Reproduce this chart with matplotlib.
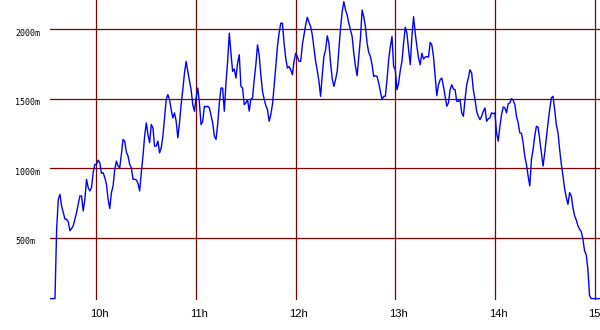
import numpy as np
import matplotlib.pyplot as plt
import matplotlib.transforms as mtransforms

# one reading a minute, first one at 9:32
start_min = 9 * 60 + 32
level = [
    60, 60, 60, 60, 560, 775, 811, 727, 680, 632,
    632, 613, 549, 565, 584, 632, 680, 739, 799, 799,
    691, 775, 919, 859, 835, 859, 967, 1026, 1026, 1057,
    1038, 962, 967, 931, 883, 775, 708, 823, 871, 990,
    1050, 1014, 1002, 1098, 1206, 1194, 1115, 1086, 1026, 1002,
    919, 919, 914, 890, 835, 967, 1086, 1230, 1325, 1242,
    1182, 1313, 1289, 1158, 1158, 1194, 1110, 1146, 1230, 1361,
    1493, 1529, 1493, 1421, 1361, 1397, 1337, 1218, 1325, 1457,
    1564, 1684, 1768, 1696, 1631, 1564, 1457, 1409, 1505, 1576,
    1469, 1313, 1337, 1445, 1440, 1445, 1433, 1378, 1325, 1230,
    1206, 1313, 1469, 1576, 1576, 1409, 1612, 1768, 1971, 1827,
    1696, 1713, 1648, 1756, 1816, 1588, 1576, 1457, 1469, 1493,
    1410, 1497, 1505, 1636, 1744, 1887, 1815, 1672, 1552, 1497,
    1450, 1421, 1337, 1385, 1457, 1588, 1732, 1875, 1971, 2043,
    2043, 1899, 1792, 1720, 1732, 1708, 1672, 1768, 1827, 1803,
    1768, 1768, 1887, 1959, 2031, 2086, 2050, 2019, 1959, 1863,
    1768, 1703, 1624, 1517, 1672, 1803, 1851, 1952, 1899, 1756,
    1643, 1588, 1636, 1696, 1851, 2007, 2126, 2198, 2138, 2102,
    2043, 1995, 1947, 1827, 1732, 1665, 1803, 1935, 2138, 2090,
    2019, 1899, 1832, 1803, 1744, 1660, 1665, 1660, 1612, 1552,
    1493, 1517, 1517, 1636, 1780, 1875, 1947, 1732, 1708, 1564,
    1612, 1703, 1768, 1899, 2014, 1971, 1851, 1744, 1947, 2090,
    1971, 1875, 1792, 1744, 1827, 1785, 1799, 1803, 1799, 1904,
    1887, 1803, 1660, 1521, 1600, 1636, 1648, 1588, 1517, 1445,
    1469, 1564, 1600, 1569, 1564, 1481, 1481, 1493, 1397, 1373,
    1493, 1600, 1648, 1708, 1684, 1564, 1493, 1409, 1373, 1349,
    1373, 1409, 1433, 1337, 1354, 1361, 1397, 1392, 1397, 1254,
    1194, 1301, 1385, 1440, 1433, 1397, 1464, 1469, 1500, 1488,
    1457, 1373, 1325, 1254, 1249, 1182, 1086, 1026, 943, 871,
    1062, 1134, 1230, 1301, 1294, 1206, 1110, 1014, 1110, 1218,
    1325, 1421, 1505, 1517, 1421, 1313, 1254, 1134, 1026, 943,
    852, 787, 739, 823, 799, 715, 656, 627, 584, 560,
    543, 488, 405, 376, 273, 82, 60, 60, 60, 60,
    60, 60,
]
hours = [10, 11, 12, 13, 14, 15]
levels = [500, 1000, 1500, 2000]

t = start_min + np.arange(len(level))

fig = plt.figure(figsize=(6, 3.3), dpi=100)
ax = fig.add_axes([50 / 600, 30 / 330, 550 / 600, 300 / 330])
ax.set_xlim(start_min, start_min + 331.3)
ax.set_ylim(50, 2210)
for s in ax.spines.values():
    s.set_visible(False)

ax.set_xticks([h * 60 for h in hours])
ax.set_yticks(levels)
ax.tick_params(length=0, labelbottom=False, labelleft=False)
ax.grid(True, color='#800000', lw=0.9)
ax.set_axisbelow(True)

ax.plot(t, level, color='#0000ff', lw=1.0)

# hour labels under the vertical lines, a little to the right
xtr = mtransforms.blended_transform_factory(ax.transData, fig.transFigure)
xtr = xtr + mtransforms.ScaledTranslation(3 / 100, 0, fig.dpi_scale_trans)
for h in hours:
    ax.text(h * 60, 13 / 330, f'{h}h', transform=xtr, ha='center', va='baseline',
            fontsize=8, family='Liberation Sans', clip_on=False)

# level labels, left aligned at the figure edge
ytr = mtransforms.blended_transform_factory(fig.transFigure, ax.transData)
ytr = ytr + mtransforms.ScaledTranslation(0, -6.5 / 100, fig.dpi_scale_trans)
for v in levels:
    ax.text(15 / 600, v, f'{v}m', transform=ytr, ha='left', va='baseline',
            fontsize=6, family='DejaVu Sans Mono', clip_on=False)

fig.savefig('out.png', dpi=100)
